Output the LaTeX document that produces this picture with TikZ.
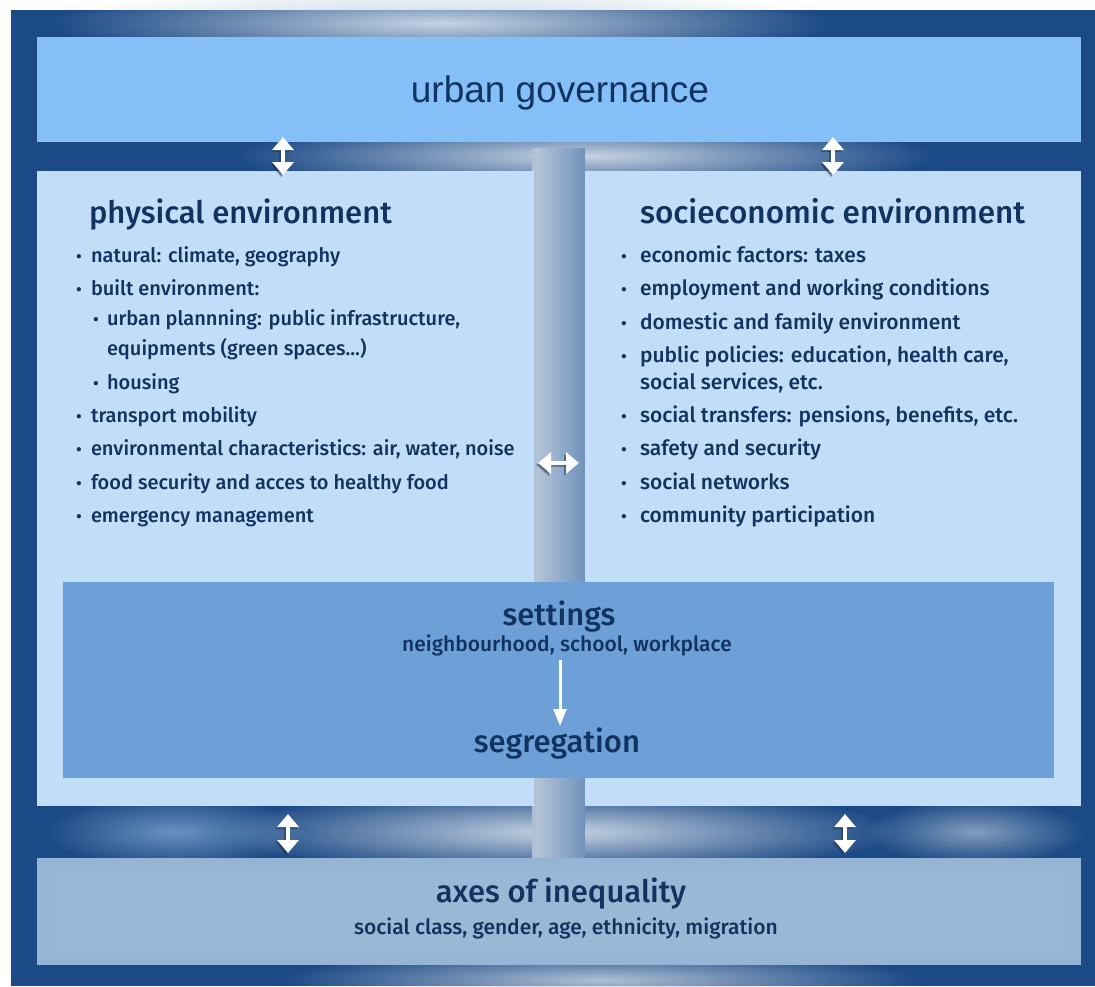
\documentclass[tikz,border=0pt]{standalone}
\usepackage{fontspec}
\newfontfamily\bodyf{Fira Sans Medium}
\newfontfamily\ugf{Liberation Sans}
\usetikzlibrary{arrows.meta,fadings}
\definecolor{framec}{HTML}{1C4A86}
\definecolor{glowc}{HTML}{C7D4E3}
\definecolor{glowb}{HTML}{7FA3CE}
\definecolor{ugbox}{HTML}{85BFF8}
\definecolor{envbox}{HTML}{C1DDF8}
\definecolor{setbox}{HTML}{6CA0D6}
\definecolor{axbox}{HTML}{99B8D6}
\definecolor{axedge}{HTML}{6F92BD}
\definecolor{txt}{HTML}{12325F}
\definecolor{shadowc}{HTML}{1A2F4F}
\definecolor{colA}{HTML}{94ADCB}
\definecolor{colB}{HTML}{B3C3D7}
\definecolor{colC}{HTML}{7F9DC2}
\definecolor{colD}{HTML}{4A73A5}
\tikzfading[name=glowfade, inner color=transparent!0, outer color=transparent!100]
\pgfdeclarehorizontalshading{colshade}{100bp}{color(0bp)=(colA); color(30bp)=(colB); color(65bp)=(colC); color(100bp)=(colD)}
\newcommand\bitem[2]{\makebox[#1][l]{\raisebox{0pt}{\fontsize{17}{17}\selectfont\textbullet}}#2}
\begin{document}
\begin{tikzpicture}[x=1pt,y=-1pt,
  box/.style={draw=none, inner sep=0pt, outer sep=0pt, anchor=north west},
  tx/.style={inner sep=0pt, outer sep=0pt, text=txt},
  item/.style={tx, anchor=base west, font=\bodyf\fontsize{20}{24}\selectfont},
  itemr/.style={tx, anchor=base west, font=\bodyf\fontsize{21}{24}\selectfont},
  ttl/.style={tx, anchor=base west, font=\bodyf\fontsize{31}{34}\selectfont},
  ttlr/.style={tx, anchor=base west, font=\bodyf\fontsize{31.5}{34}\selectfont},
  cbig/.style={tx, anchor=base, font=\bodyf\fontsize{31}{34}\selectfont},
  csmall/.style={tx, anchor=base, font=\bodyf\fontsize{21}{24}\selectfont},
  dbl/.style={draw=white, line width=4.5pt, {Triangle[width=21pt,length=13pt]}-{Triangle[width=21pt,length=13pt]}},
  dblshadow/.style={draw=shadowc, opacity=0.45, line width=4.5pt, {Triangle[width=21pt,length=13pt]}-{Triangle[width=21pt,length=13pt]}},
  glowf/.style={path fading=glowfade, fit fading=true}
]
\useasboundingbox (0,0) rectangle (1095,986);
\fill[white] (0,0) rectangle (1095,986);
\fill[framec] (11,10) rectangle (1095,986);
% glows in the frame
\fill[glowc, glowf] (440,23) ellipse (390 and 40);
\fill[glowc, glowf] (585,156) ellipse (350 and 36);
\fill[glowb, glowf, opacity=0.8] (175,832) ellipse (130 and 36);
\fill[glowc, glowf] (560,832) ellipse (340 and 42);
\fill[glowc, glowf, opacity=0.6] (975,832) ellipse (110 and 32);
\fill[glowc, glowf, opacity=0.85] (600,980) ellipse (320 and 30);
% central column
\shade[shading=colshade] (532,148) rectangle (585,862);
% boxes
\node[box, fill=ugbox, minimum width=1044pt, minimum height=105pt] (ug) at (37,37) {};
\node[box, fill=envbox, minimum width=497pt, minimum height=635pt] (phys) at (37,171) {};
\node[box, fill=envbox, minimum width=496pt, minimum height=635pt] (soc) at (585,171) {};
\node[box, fill=setbox, minimum width=991pt, minimum height=196pt] (sett) at (63,582) {};
\node[box, fill=axbox, minimum width=1044pt, minimum height=107pt] (axes) at (37,858) {};
\foreach \i in {1,...,8}{
  \pgfmathsetmacro\op{0.09*(9-\i)/8}
  \draw[axedge, opacity=\op, line width=2pt] (37+2*\i-1,858+2*\i-1) rectangle (1081-2*\i+1,965-2*\i+1);
}
% texts
\node[tx, anchor=base, font=\ugf\fontsize{37}{40}\selectfont] (ugt) at (560,102) {urban governance};
\node[ttl] (pt) at (89,223) {physical environment};
\node[ttlr] (st) at (640,223) {socieconomic environment};

\node[item] (p1) at (76,262) {\bitem{15pt}{natural: climate, geography}};
\node[item] (p2) at (76,295) {\bitem{15pt}{built environment:}};
\node[item] (p3) at (93,325) {\bitem{14pt}{urban plannning: public infrastructure,}};
\node[item] (p4) at (107,355) {equipments (green spaces...)};
\node[item] (p5) at (93,389) {\bitem{14pt}{housing}};
\node[item] (p6) at (76,422) {\bitem{15pt}{transport mobility}};
\node[item] (p7) at (76,455) {\bitem{15pt}{environmental characteristics: air, water, noise}};
\node[item] (p8) at (76,489) {\bitem{15pt}{food security and acces to healthy food}};
\node[item] (p9) at (76,522) {\bitem{15pt}{emergency management}};

\node[itemr] (s1) at (621,262) {\bitem{19pt}{economic factors: taxes}};
\node[itemr] (s2) at (621,295) {\bitem{19pt}{employment and working conditions}};
\node[itemr] (s3) at (621,329) {\bitem{19pt}{domestic and family environment}};
\node[itemr] (s4) at (621,362) {\bitem{19pt}{public policies: education, health care,}};
\node[itemr] (s5) at (640,389) {social services, etc.};
\node[itemr] (s6) at (621,422) {\bitem{19pt}{social transfers: pensions, benefits, etc.}};
\node[itemr] (s7) at (621,455) {\bitem{19pt}{safety and security}};
\node[itemr] (s8) at (621,489) {\bitem{19pt}{social networks}};
\node[itemr] (s9) at (621,522) {\bitem{19pt}{community participation}};

\node[cbig] (setl) at (559,625) {settings};
\node[csmall] (setsub) at (567,651) {neighbourhood, school, workplace};
\node[cbig] (segl) at (557,752) {segregation};
\node[cbig] (axl) at (561,902) {axes of inequality};
\node[csmall] (axsub) at (566,934) {social class, gender, age, ethnicity, migration};

% arrow end points
\coordinate (a1t) at (283,137); \coordinate (a1b) at (283,175);
\coordinate (a2t) at (833,137); \coordinate (a2b) at (833,175);
\coordinate (a3l) at (538,463); \coordinate (a3r) at (579,463);
\coordinate (a4t) at (288,814); \coordinate (a4b) at (288,853);
\coordinate (a5t) at (845,814); \coordinate (a5b) at (845,853);
\coordinate (sa) at (560,660); \coordinate (sb) at (560,726);
\foreach \p/\q in {a1t/a1b,a2t/a2b,a3l/a3r,a4t/a4b,a5t/a5b}{
  \draw[dblshadow] ([shift={(-2,2)}]\p) -- ([shift={(-2,2)}]\q);
  \draw[dbl] (\p) -- (\q);
}
\draw[white, line width=3pt, -{Triangle[width=13pt,length=17pt]}] (sa) -- (sb);
\end{tikzpicture}
\end{document}
